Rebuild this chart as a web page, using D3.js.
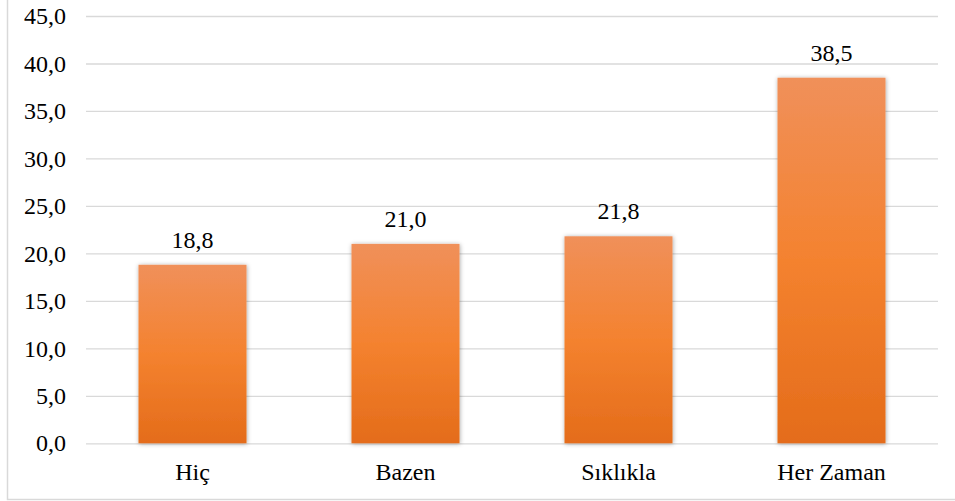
<!DOCTYPE html>
<html><head><meta charset="utf-8">
<script src="https://cdn.jsdelivr.net/npm/d3@7"></script>
<style>body{margin:0;background:#fff}svg{display:block}</style>
</head><body><div id="c"></div>
<script>
const categories = ["Hiç", "Bazen", "Sıklıkla", "Her Zaman"];
const values = [18.8, 21.0, 21.8, 38.5];
const yTicks = [0, 5, 10, 15, 20, 25, 30, 35, 40, 45];

const FONT = "'Liberation Serif', 'Times New Roman', Times, serif";
const W = 955, H = 501;
const m = {left: 86, right: 17, top: 16, bottom: 57.7};
const svg = d3.select("#c").append("svg").attr("width", W).attr("height", H)
  .style("font-family", FONT);

const defs = svg.append("defs");
const grad = defs.append("linearGradient").attr("id","g").attr("x1",0).attr("y1",0).attr("x2",0).attr("y2",1);
grad.append("stop").attr("offset","0%").attr("stop-color","#f0905a");
grad.append("stop").attr("offset","50%").attr("stop-color","#f4822f");
grad.append("stop").attr("offset","100%").attr("stop-color","#e46c1a");
const f = defs.append("filter").attr("id","sh").attr("x","-20%").attr("y","-20%").attr("width","140%").attr("height","140%");
f.append("feDropShadow").attr("dx",0.5).attr("dy",0.5).attr("stdDeviation",2.2).attr("flood-color","#000").attr("flood-opacity",0.35);

svg.append("path").attr("d", `M7.5,0 V499.5 H${W}`).attr("fill","none").attr("stroke","#d9d9d9").attr("stroke-width",1.5);

const x = d3.scaleBand().domain(categories).range([m.left, W - m.right]).paddingInner(0.493).paddingOuter(0.2465);
const y = d3.scaleLinear().domain([0, 45]).range([H - m.bottom, m.top]);

const yAxis = d3.axisLeft(y).tickValues(yTicks).tickSize(-(W - m.right - m.left)).tickPadding(20)
  .tickFormat(d => d3.format(".1f")(d).replace(".", ","));
const gy = svg.append("g").attr("transform", `translate(${m.left},0)`).call(yAxis)
  .attr("font-family", FONT).attr("font-size", 24);
gy.select(".domain").remove();
gy.selectAll(".tick line").attr("stroke","#d9d9d9").attr("stroke-width",1.3);
gy.selectAll(".tick text").attr("fill","#000").attr("dy","0.32em");

svg.append("g").attr("font-family", FONT).attr("font-size", 24)
  .selectAll("text").data(values).join("text")
  .attr("x", (d,i) => x(categories[i]) + x.bandwidth()/2)
  .attr("y", d => y(d) - 17)
  .attr("text-anchor","middle").attr("fill","#000")
  .text(d => d3.format(".1f")(d).replace(".", ","));

svg.append("g").selectAll("rect").data(values).join("rect")
  .attr("x", (d,i) => x(categories[i]))
  .attr("width", x.bandwidth())
  .attr("y", d => y(d))
  .attr("height", d => y(0) - y(d))
  .attr("fill","url(#g)")
  .attr("filter","url(#sh)");

const xAxis = d3.axisBottom(x).tickSize(0).tickPadding(20);
const gx = svg.append("g").attr("transform", `translate(0,${y(0)})`).call(xAxis)
  .attr("font-family", FONT).attr("font-size", 24);
gx.select(".domain").remove();
gx.selectAll(".tick text").attr("fill","#000").attr("dy","0.71em");
</script></body></html>
